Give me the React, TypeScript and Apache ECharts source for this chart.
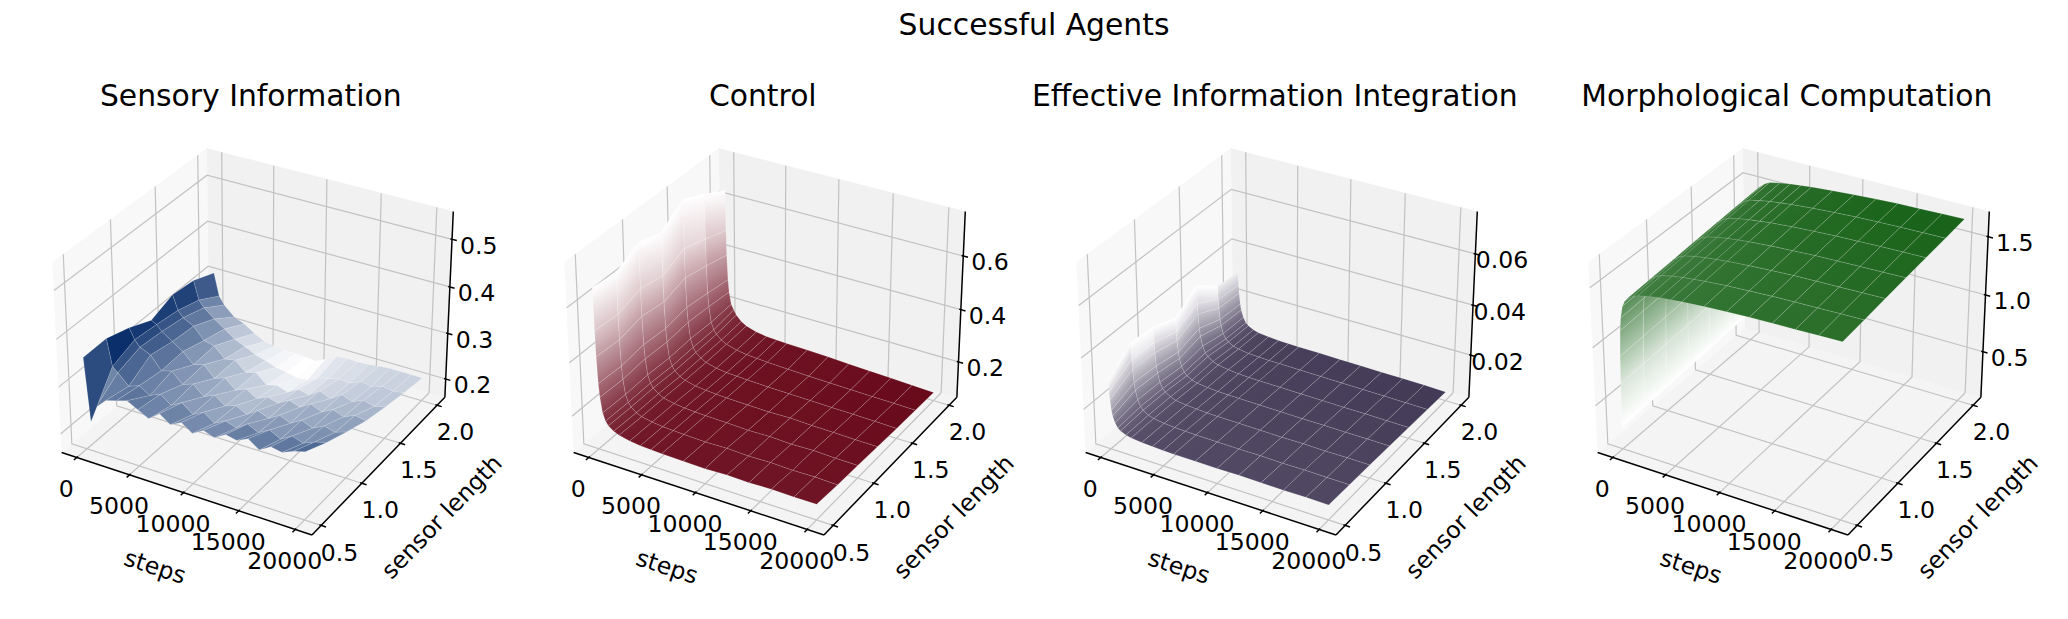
import React, { useEffect, useRef } from "react";
import * as echarts from "echarts";

// ---------------- data ----------------
const SENSOR_LENGTHS = [0.5, 0.75, 1.0, 1.25, 1.5, 1.75, 2.0];
const STEPS_COARSE = [0, 500, 1000, 2000, 3000, 4000, 5000, 6000, 7000, 8000, 9000, 10000, 11000, 12000, 13000, 14000, 15000, 16000, 17000, 18000, 19000, 20000];
const STEPS_FINE = [0, 50, 100, 200, 300, 500, 750, 1000, 1500, 2000, 3000, 4000, 5000, 6000, 8000, 10000, 12000, 14000, 16000, 18000, 20000];

const STEP_TICKS = [0, 5000, 10000, 15000, 20000];
const STEP_TICK_LABELS = ["0", "5000", "10000", "15000", "20000"];
const SENSOR_TICKS = [0.5, 1.0, 1.5, 2.0];
const SENSOR_TICK_LABELS = ["0.5", "1.0", "1.5", "2.0"];

const SENSORY_Z_TICKS = [0.2, 0.3, 0.4, 0.5];
const SENSORY_Z_LABELS = ["0.2", "0.3", "0.4", "0.5"];
const CONTROL_Z_TICKS = [0.2, 0.4, 0.6];
const CONTROL_Z_LABELS = ["0.2", "0.4", "0.6"];
const EII_Z_TICKS = [0.02, 0.04, 0.06];
const EII_Z_LABELS = ["0.02", "0.04", "0.06"];
const MORPH_Z_TICKS = [0.5, 1.0, 1.5];
const MORPH_Z_LABELS = ["0.5", "1.0", "1.5"];

const STEPS_RANGE = [-1000, 21000];
const SENSOR_RANGE = [0.425, 2.075];
const SENSORY_Z_RANGE = [0.1674, 0.5493];
const CONTROL_Z_RANGE = [0.076, 0.748];
const EII_Z_RANGE = [0.00428, 0.0747];
const MORPH_Z_RANGE = [0.1212, 1.679];

// Sensory information, one row per sensor length, columns = STEPS_COARSE
const SENSORY_AT_050 = [0.355, 0.222, 0.256, 0.278, 0.285, 0.292, 0.280, 0.268, 0.286, 0.270, 0.282, 0.266, 0.280, 0.272, 0.286, 0.281, 0.292, 0.276, 0.290, 0.286, 0.296, 0.302];
const SENSORY_AT_075 = [0.356, 0.300, 0.290, 0.268, 0.276, 0.262, 0.272, 0.255, 0.268, 0.250, 0.262, 0.246, 0.258, 0.250, 0.266, 0.255, 0.268, 0.256, 0.270, 0.262, 0.272, 0.278];
const SENSORY_AT_100 = [0.340, 0.318, 0.305, 0.295, 0.268, 0.274, 0.252, 0.260, 0.240, 0.250, 0.234, 0.242, 0.230, 0.246, 0.236, 0.250, 0.240, 0.254, 0.244, 0.256, 0.250, 0.258];
const SENSORY_AT_125 = [0.318, 0.312, 0.300, 0.285, 0.270, 0.248, 0.255, 0.232, 0.240, 0.220, 0.230, 0.216, 0.226, 0.220, 0.234, 0.226, 0.240, 0.230, 0.242, 0.234, 0.244, 0.240];
const SENSORY_AT_150 = [0.336, 0.305, 0.292, 0.280, 0.255, 0.250, 0.228, 0.232, 0.212, 0.218, 0.198, 0.204, 0.196, 0.210, 0.204, 0.220, 0.210, 0.226, 0.218, 0.228, 0.222, 0.228];
const SENSORY_AT_175 = [0.330, 0.290, 0.276, 0.258, 0.242, 0.226, 0.216, 0.205, 0.198, 0.190, 0.186, 0.181, 0.182, 0.194, 0.200, 0.206, 0.204, 0.214, 0.210, 0.218, 0.214, 0.218];
const SENSORY_AT_200 = [0.310, 0.262, 0.245, 0.224, 0.215, 0.200, 0.188, 0.185, 0.183, 0.182, 0.180, 0.178, 0.190, 0.203, 0.205, 0.204, 0.205, 0.208, 0.210, 0.210, 0.210, 0.210];

// Control, columns = STEPS_FINE
const CONTROL_AT_050 = [0.660, 0.505, 0.410, 0.312, 0.262, 0.206, 0.178, 0.163, 0.149, 0.140, 0.131, 0.126, 0.124, 0.122, 0.120, 0.118, 0.121, 0.119, 0.122, 0.120, 0.121];
const CONTROL_AT_075 = [0.650, 0.498, 0.404, 0.307, 0.258, 0.203, 0.176, 0.161, 0.146, 0.137, 0.129, 0.124, 0.122, 0.120, 0.117, 0.119, 0.116, 0.118, 0.115, 0.117, 0.114];
const CONTROL_AT_100 = [0.695, 0.527, 0.424, 0.319, 0.266, 0.207, 0.178, 0.162, 0.146, 0.136, 0.127, 0.122, 0.120, 0.118, 0.116, 0.113, 0.115, 0.112, 0.114, 0.111, 0.110];
const CONTROL_AT_125 = [0.670, 0.510, 0.412, 0.312, 0.261, 0.203, 0.174, 0.158, 0.142, 0.133, 0.123, 0.119, 0.116, 0.114, 0.112, 0.110, 0.112, 0.109, 0.108, 0.106, 0.105];
const CONTROL_AT_150 = [0.730, 0.548, 0.438, 0.326, 0.270, 0.208, 0.177, 0.160, 0.144, 0.133, 0.122, 0.117, 0.115, 0.113, 0.110, 0.108, 0.107, 0.105, 0.104, 0.102, 0.100];
const CONTROL_AT_175 = [0.690, 0.522, 0.420, 0.316, 0.264, 0.205, 0.178, 0.163, 0.146, 0.135, 0.124, 0.118, 0.115, 0.112, 0.109, 0.106, 0.104, 0.102, 0.100, 0.099, 0.097];
const CONTROL_AT_200 = [0.645, 0.492, 0.398, 0.303, 0.256, 0.209, 0.190, 0.172, 0.152, 0.140, 0.128, 0.122, 0.119, 0.117, 0.115, 0.112, 0.108, 0.105, 0.101, 0.098, 0.094];

// Effective information integration, columns = STEPS_FINE
const EII_AT_050 = [0.0300, 0.0253, 0.0224, 0.0186, 0.0164, 0.0139, 0.0122, 0.0113, 0.0104, 0.0099, 0.0094, 0.0092, 0.0090, 0.0089, 0.0089, 0.0088, 0.0089, 0.0088, 0.0087, 0.0088, 0.0087];
const EII_AT_075 = [0.0375, 0.0312, 0.0272, 0.0220, 0.0190, 0.0155, 0.0131, 0.0119, 0.0106, 0.0099, 0.0093, 0.0090, 0.0088, 0.0087, 0.0086, 0.0085, 0.0086, 0.0084, 0.0085, 0.0084, 0.0083];
const EII_AT_100 = [0.0365, 0.0304, 0.0264, 0.0213, 0.0185, 0.0150, 0.0128, 0.0117, 0.0104, 0.0096, 0.0090, 0.0087, 0.0085, 0.0084, 0.0083, 0.0082, 0.0081, 0.0082, 0.0080, 0.0081, 0.0080];
const EII_AT_125 = [0.0330, 0.0275, 0.0240, 0.0195, 0.0170, 0.0140, 0.0120, 0.0109, 0.0098, 0.0091, 0.0086, 0.0083, 0.0082, 0.0081, 0.0080, 0.0079, 0.0078, 0.0078, 0.0077, 0.0077, 0.0076];
const EII_AT_150 = [0.0390, 0.0321, 0.0277, 0.0220, 0.0189, 0.0151, 0.0126, 0.0114, 0.0100, 0.0092, 0.0085, 0.0081, 0.0079, 0.0078, 0.0077, 0.0076, 0.0075, 0.0074, 0.0074, 0.0073, 0.0072];
const EII_AT_175 = [0.0320, 0.0266, 0.0231, 0.0186, 0.0162, 0.0131, 0.0112, 0.0102, 0.0091, 0.0085, 0.0079, 0.0077, 0.0075, 0.0075, 0.0074, 0.0073, 0.0072, 0.0071, 0.0070, 0.0069, 0.0068];
const EII_AT_200 = [0.0310, 0.0257, 0.0224, 0.0180, 0.0156, 0.0128, 0.0108, 0.0099, 0.0088, 0.0082, 0.0077, 0.0074, 0.0073, 0.0072, 0.0071, 0.0070, 0.0069, 0.0068, 0.0067, 0.0066, 0.0064];

// Morphological computation, columns = STEPS_FINE
const MORPH_AT_050 = [0.280, 0.660, 0.900, 1.120, 1.230, 1.330, 1.380, 1.410, 1.440, 1.460, 1.480, 1.495, 1.505, 1.515, 1.530, 1.540, 1.550, 1.555, 1.560, 1.565, 1.570];
const MORPH_AT_075 = [0.290, 0.672, 0.912, 1.133, 1.243, 1.343, 1.394, 1.424, 1.455, 1.476, 1.497, 1.512, 1.522, 1.532, 1.547, 1.557, 1.567, 1.573, 1.578, 1.583, 1.588];
const MORPH_AT_100 = [0.300, 0.685, 0.925, 1.145, 1.255, 1.357, 1.408, 1.438, 1.470, 1.492, 1.513, 1.528, 1.539, 1.549, 1.564, 1.575, 1.585, 1.591, 1.596, 1.601, 1.606];
const MORPH_AT_125 = [0.310, 0.698, 0.938, 1.158, 1.268, 1.370, 1.421, 1.452, 1.485, 1.507, 1.529, 1.545, 1.556, 1.566, 1.582, 1.592, 1.602, 1.608, 1.614, 1.619, 1.624];
const MORPH_AT_150 = [0.320, 0.712, 0.952, 1.172, 1.283, 1.384, 1.434, 1.465, 1.499, 1.523, 1.545, 1.561, 1.572, 1.583, 1.599, 1.610, 1.620, 1.626, 1.632, 1.637, 1.641];
const MORPH_AT_175 = [0.330, 0.726, 0.966, 1.186, 1.297, 1.397, 1.447, 1.478, 1.514, 1.539, 1.560, 1.576, 1.588, 1.599, 1.615, 1.627, 1.638, 1.644, 1.650, 1.654, 1.658];
const MORPH_AT_200 = [0.340, 0.740, 0.980, 1.200, 1.310, 1.410, 1.460, 1.490, 1.530, 1.555, 1.575, 1.590, 1.600, 1.610, 1.625, 1.640, 1.650, 1.660, 1.665, 1.670, 1.675];

const SUPTITLE = "Successful Agents";
const X_LABEL = "steps";
const Y_LABEL = "sensor length";

// ---------------- look ----------------
const FONT = "DejaVu Sans";
const TITLE_SIZE = 29.8;
const TICK_SIZE = 23.6;
const SIDE_PANE = "#f8f8f8";
const BACK_PANE = "#f1f1f1";
const FLOOR_PANE = "#f4f4f4";
const GRID_COLOR = "#c2c2c2";

const PANELS = [
  { title: "Sensory Information", steps: STEPS_COARSE, rows: [SENSORY_AT_050, SENSORY_AT_075, SENSORY_AT_100, SENSORY_AT_125, SENSORY_AT_150, SENSORY_AT_175, SENSORY_AT_200], zRange: SENSORY_Z_RANGE, zTicks: SENSORY_Z_TICKS, zLabels: SENSORY_Z_LABELS, dark: "#0a2f6b", reversed: false, smooth: false },
  { title: "Control", steps: STEPS_FINE, rows: [CONTROL_AT_050, CONTROL_AT_075, CONTROL_AT_100, CONTROL_AT_125, CONTROL_AT_150, CONTROL_AT_175, CONTROL_AT_200], zRange: CONTROL_Z_RANGE, zTicks: CONTROL_Z_TICKS, zLabels: CONTROL_Z_LABELS, dark: "#690a1b", reversed: true, smooth: true },
  { title: "Effective Information Integration", steps: STEPS_FINE, rows: [EII_AT_050, EII_AT_075, EII_AT_100, EII_AT_125, EII_AT_150, EII_AT_175, EII_AT_200], zRange: EII_Z_RANGE, zTicks: EII_Z_TICKS, zLabels: EII_Z_LABELS, dark: "#433a57", reversed: true, smooth: true },
  { title: "Morphological Computation", steps: STEPS_FINE, rows: [MORPH_AT_050, MORPH_AT_075, MORPH_AT_100, MORPH_AT_125, MORPH_AT_150, MORPH_AT_175, MORPH_AT_200], zRange: MORPH_Z_RANGE, zTicks: MORPH_Z_TICKS, zLabels: MORPH_Z_LABELS, dark: "#1a631a", reversed: false, smooth: true },
];

// ---------------- 3D view (matplotlib default elev 30, azim -60) ----------------
const ELEV = 30, AZIM = -60, DIST = 10;
const er = (ELEV * Math.PI) / 180, ar = (AZIM * Math.PI) / 180;
const NV = [Math.cos(er) * Math.cos(ar), Math.cos(er) * Math.sin(ar), Math.sin(er)];
const un = Math.hypot(NV[1], NV[0]);
const UV = [-NV[1] / un, NV[0] / un, 0];
const VV = [NV[1] * UV[2] - NV[2] * UV[1], NV[2] * UV[0] - NV[0] * UV[2], NV[0] * UV[1] - NV[1] * UV[0]];
const HX = 4 / 7, HZ = 3 / 7;
const PAD = 1 + 1 / 24;
const PX = HX * PAD, PY = HX * PAD, PZ = HZ * PAD;

const dot = (a: number[], b: number[]) => a[0] * b[0] + a[1] * b[1] + a[2] * b[2];
function proj(P: number[]) {
  const d = dot(NV, P);
  const w = DIST - d;
  return { x: dot(UV, P) / w, y: dot(VV, P) / w, d };
}
const wx = (s: number) => ((s - STEPS_RANGE[0]) / (STEPS_RANGE[1] - STEPS_RANGE[0]) - 0.5) * 2 * HX;
const wy = (l: number) => ((l - SENSOR_RANGE[0]) / (SENSOR_RANGE[1] - SENSOR_RANGE[0]) - 0.5) * 2 * HX;
const wz = (z: number, r: number[]) => ((z - r[0]) / (r[1] - r[0]) - 0.5) * 2 * HZ;

// layout of the four (hidden) cartesian grids that carry the projection
const VIEW = [-0.095, 0.09];
const GRID_LEFT = 28.04, GRID_TOP = 113.7, GRID_W = 445.5, GRID_H = 449.6, PANEL_GAP = 512;

function hexRgb(h: string) {
  const n = parseInt(h.slice(1), 16);
  return [(n >> 16) & 255, (n >> 8) & 255, n & 255];
}
function cmap(dark: string, reversed: boolean, t: number) {
  let k = Math.max(0, Math.min(1, t));
  if (reversed) k = 1 - k;
  const c = hexRgb(dark);
  const r = Math.round(255 + (c[0] - 255) * k);
  const g = Math.round(255 + (c[1] - 255) * k);
  const b = Math.round(255 + (c[2] - 255) * k);
  return `rgb(${r},${g},${b})`;
}

function buildFacets(p: any) {
  const raw: any[] = [];
  const S = p.steps, L = SENSOR_LENGTHS;
  for (let i = 0; i < L.length - 1; i++) {
    for (let j = 0; j < S.length - 1; j++) {
      const cs = [
        [S[j], L[i], p.rows[i][j]],
        [S[j + 1], L[i], p.rows[i][j + 1]],
        [S[j + 1], L[i + 1], p.rows[i + 1][j + 1]],
        [S[j], L[i + 1], p.rows[i + 1][j]],
      ];
      const corners = cs.map((c) => proj([wx(c[0]), wy(c[1]), wz(c[2], p.zRange)]));
      const avg = (cs[0][2] + cs[1][2] + cs[2][2] + cs[3][2]) / 4;
      const depth = corners.reduce((a, c) => a + c.d, 0) / 4;
      const cx = corners.reduce((a, c) => a + c.x, 0) / 4;
      const cy = corners.reduce((a, c) => a + c.y, 0) / 4;
      raw.push({ corners, avg, depth, cx, cy, zA: (cs[0][2] + cs[3][2]) / 2, zB: (cs[1][2] + cs[2][2]) / 2 });
    }
  }
  const vmin = Math.min(...raw.map((f) => f.avg));
  const vmax = Math.max(...raw.map((f) => f.avg));
  const nrm = (v: number) => (v - vmin) / (vmax - vmin);
  raw.forEach((f) => {
    f.color = cmap(p.dark, p.reversed, nrm(f.avg));
    if (p.smooth) {
      f.colorA = cmap(p.dark, p.reversed, nrm(f.zA));
      f.colorB = cmap(p.dark, p.reversed, nrm(f.zB));
    }
  });
  raw.sort((a, b) => a.depth - b.depth);
  return raw;
}

function frameRenderer(p: any) {
  return (_params: any, api: any) => {
    const pt = (X: number, Y: number, Z: number) => {
      const q = proj([X, Y, Z]);
      return api.coord([q.x, q.y]);
    };
    const ch: any[] = [];
    const poly = (pts: number[][], fill: string) =>
      ch.push({ type: "polygon", shape: { points: pts }, style: { fill, stroke: fill, lineWidth: 0.5 } });
    poly([pt(-PX, -PY, -PZ), pt(PX, -PY, -PZ), pt(PX, PY, -PZ), pt(-PX, PY, -PZ)], FLOOR_PANE);
    poly([pt(-PX, PY, -PZ), pt(PX, PY, -PZ), pt(PX, PY, PZ), pt(-PX, PY, PZ)], BACK_PANE);
    poly([pt(-PX, -PY, -PZ), pt(-PX, PY, -PZ), pt(-PX, PY, PZ), pt(-PX, -PY, PZ)], SIDE_PANE);
    const gl = (pts: number[][]) =>
      ch.push({ type: "polyline", shape: { points: pts }, style: { stroke: GRID_COLOR, lineWidth: 1.2, fill: "none" } });
    STEP_TICKS.forEach((t) => { const X = wx(t); gl([pt(X, -PY, -PZ), pt(X, PY, -PZ), pt(X, PY, PZ)]); });
    SENSOR_TICKS.forEach((t) => { const Y = wy(t); gl([pt(PX, Y, -PZ), pt(-PX, Y, -PZ), pt(-PX, Y, PZ)]); });
    p.zTicks.forEach((t: number) => { const Z = wz(t, p.zRange); gl([pt(-PX, -PY, Z), pt(-PX, PY, Z), pt(PX, PY, Z)]); });
    const ln = (a: number[], b: number[]) =>
      ch.push({ type: "line", shape: { x1: a[0], y1: a[1], x2: b[0], y2: b[1] }, style: { stroke: "#000", lineWidth: 1.5 } });
    ln(pt(-PX, -PY, -PZ), pt(PX, -PY, -PZ));
    ln(pt(PX, -PY, -PZ), pt(PX, PY, -PZ));
    ln(pt(PX, PY, -PZ), pt(PX, PY, PZ));
    const TIN = 0.008, TOUT = 0.022;
    const txt = (x: number, y: number, text: string, rotation = 0) =>
      ch.push({
        type: "text", x, y, rotation,
        style: { text, fill: "#000", fontSize: TICK_SIZE, fontFamily: FONT, align: "center", verticalAlign: "middle" },
      });
    STEP_TICKS.forEach((t, i) => {
      const X = wx(t);
      ln(pt(X, -PY + TIN, -PZ), pt(X, -PY - TOUT, -PZ));
      const b = pt(X, -PY, -PZ);
      txt(b[0] - 10.5, b[1] + 31.6, STEP_TICK_LABELS[i]);
    });
    SENSOR_TICKS.forEach((t, i) => {
      const Y = wy(t);
      ln(pt(PX - TIN, Y, -PZ), pt(PX + TOUT, Y, -PZ));
      const b = pt(PX, Y, -PZ);
      txt(b[0] + 18.4, b[1] + 27.2, SENSOR_TICK_LABELS[i]);
    });
    p.zTicks.forEach((t: number, i: number) => {
      const Z = wz(t, p.zRange);
      ln(pt(PX - TIN, PY, Z), pt(PX + TOUT, PY, Z));
      const b = pt(PX, PY, Z);
      txt(b[0] + 26.7, b[1] + 6.4, p.zLabels[i]);
    });
    // axis labels
    const xa = pt(-PX, -PY, -PZ), xb = pt(PX, -PY, -PZ), xm = pt(0, -PY, -PZ);
    txt(xm[0] - 28.5, xm[1] + 74.1, X_LABEL, -Math.atan2(xb[1] - xa[1], xb[0] - xa[0]));
    const ya = pt(PX, -PY, -PZ), yb = pt(PX, PY, -PZ), ym = pt(PX, 0, -PZ);
    txt(ym[0] + 60.3, ym[1] + 53.8, Y_LABEL, -Math.atan2(yb[1] - ya[1], yb[0] - ya[0]));
    return { type: "group", children: ch };
  };
}

function surfaceRenderer(facets: any[]) {
  return (params: any, api: any) => {
    const f = facets[params.dataIndex];
    const pts = f.corners.map((c: any) => api.coord([c.x, c.y]));
    let fill: any = f.color;
    if (f.colorA) {
      // gradient across the facet, with the low-steps edge as an iso-colour line
      const a0 = pts[0], a1 = pts[3];
      const dx = a1[0] - a0[0], dy = a1[1] - a0[1];
      const len = Math.hypot(dx, dy);
      if (len > 0.01) {
        const nx = -dy / len, ny = dx / len;
        const bm = [(pts[1][0] + pts[2][0]) / 2, (pts[1][1] + pts[2][1]) / 2];
        const am = [(a0[0] + a1[0]) / 2, (a0[1] + a1[1]) / 2];
        const dist = (bm[0] - am[0]) * nx + (bm[1] - am[1]) * ny;
        if (Math.abs(dist) > 0.4) {
          fill = {
            type: "linear", x: am[0], y: am[1], x2: am[0] + nx * dist, y2: am[1] + ny * dist, global: true,
            colorStops: [{ offset: 0, color: f.colorA }, { offset: 1, color: f.colorB }],
          };
        }
      }
    }
    return {
      type: "polygon",
      shape: { points: pts },
      style: { fill, stroke: "rgba(255,255,255,0.2)", lineWidth: 0.7 },
    };
  };
}

function buildOption() {
  const grid: any[] = [], xAxis: any[] = [], yAxis: any[] = [], series: any[] = [];
  const graphic: any[] = [
    {
      type: "text", x: 1034, y: 24.5,
      style: { text: SUPTITLE, fill: "#000", fontSize: TITLE_SIZE, fontFamily: FONT, align: "center", verticalAlign: "middle" },
    },
  ];
  PANELS.forEach((p, k) => {
    const left = GRID_LEFT + k * PANEL_GAP;
    grid.push({ left, top: GRID_TOP, width: GRID_W, height: GRID_H, show: false });
    xAxis.push({ type: "value", gridIndex: k, min: VIEW[0], max: VIEW[1], show: false });
    yAxis.push({ type: "value", gridIndex: k, min: VIEW[0], max: VIEW[1], show: false });
    graphic.push({
      type: "text", x: left + GRID_W / 2, y: 95.2,
      style: { text: p.title, fill: "#000", fontSize: TITLE_SIZE, fontFamily: FONT, align: "center", verticalAlign: "middle" },
    });
    series.push({
      type: "custom", xAxisIndex: k, yAxisIndex: k, clip: false, silent: true, z: 1,
      data: [[0, 0]], encode: { x: 0, y: 1 },
      renderItem: frameRenderer(p),
    });
    const facets = buildFacets(p);
    series.push({
      type: "custom", xAxisIndex: k, yAxisIndex: k, clip: false, silent: true, z: 2,
      data: facets.map((f) => [f.cx, f.cy]), encode: { x: 0, y: 1 },
      renderItem: surfaceRenderer(facets),
    });
  });
  return { animation: false, backgroundColor: "#ffffff", grid, xAxis, yAxis, series, graphic };
}

export default function App() {
  const ref = useRef<HTMLDivElement>(null);
  useEffect(() => {
    if (!ref.current) return;
    const chart = echarts.init(ref.current, undefined, { renderer: "svg" });
    chart.setOption(buildOption() as any);
    return () => chart.dispose();
  }, []);
  return (
    <div
      ref={ref}
      style={{ position: "absolute", left: 0, top: 0, width: 2068, height: 619, background: "#fff" }}
    />
  );
}
